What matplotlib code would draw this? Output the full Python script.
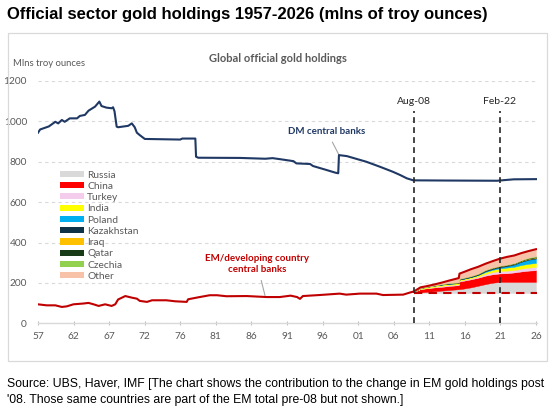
import numpy as np
import matplotlib
matplotlib.use("Agg")
import matplotlib.pyplot as plt
from matplotlib.patches import Patch, Rectangle

# ---------------- data ----------------
tick_labels = ['57', '62', '67', '72', '76', '81', '86', '91', '96', '01', '06', '11', '16', '21', '26']

dm_t = [1957.0, 1957.3, 1958.5, 1959.4, 1959.8, 1960.3, 1960.7, 1961.4, 1962.4, 1962.8, 1963.5,
        1964.0, 1964.9, 1965.5, 1965.8, 1966.5, 1967.2, 1967.4, 1967.6, 1967.9, 1968.1, 1969.5,
        1970.0, 1970.4, 1970.7, 1971.1, 1971.8, 1976.7, 1977.0, 1978.8, 1978.9, 1979.2, 1985.0,
        1988.5, 1989.5, 1990.5, 1992.4, 1992.8, 1994.7, 1995.1, 1997.0, 1998.2, 1998.6, 1998.7,
        1999.8, 2002.5, 2004.4, 2006.2, 2007.2, 2008.1, 2009.0, 2014.0, 2020.6, 2022.9, 2026.1]
dm_v = [944, 960, 975, 998, 990, 1007, 998, 1015, 1015, 1027, 1032,
        1053, 1073, 1098, 1076, 1068, 1065, 1070, 1050, 974, 971, 978,
        990, 971, 944, 932, 913, 910, 915, 915, 825, 820, 819,
        815, 818, 813, 803, 792, 789, 779, 759, 746, 743, 833,
        828, 800, 775, 750, 734, 718, 708, 707, 706, 713, 714]

em_pre_t = [1957.0, 1958.2, 1959.4, 1960.3, 1961.0, 1961.9, 1963.3, 1964.0, 1964.7, 1965.4, 1966.3,
            1967.2, 1967.7, 1968.1, 1969.1, 1970.0, 1970.7, 1971.1, 1972.1, 1972.8, 1974.8, 1976.0,
            1977.6, 1977.8, 1979.4, 1980.8, 1981.8, 1983.1, 1985.9, 1988.7, 1990.5, 1992.0, 1992.9,
            1993.3, 1993.7, 1996.0, 1998.8, 1999.7, 2001.6, 2003.9, 2004.8, 2007.6, 2008.5]
em_pre_v = [94, 89, 89, 81, 84, 94, 98, 101, 94, 86, 94,
            86, 94, 118, 135, 127, 122, 111, 106, 114, 114, 109,
            106, 119, 130, 139, 139, 134, 135, 130, 130, 137, 130,
            121, 135, 140, 147, 142, 147, 147, 140, 142, 152]

# post Aug-08 contributions (mlns oz above the Aug-08 EM level)
em_base = 150
stack_t = [2009.1, 2010, 2011, 2012, 2013, 2014, 2015.3, 2015.4, 2016, 2017, 2018, 2019, 2020,
           2021, 2022, 2023, 2024, 2025, 2026]
russia     = [1, 3, 6, 9, 12, 15, 19, 19, 22, 28, 36, 44, 51, 55, 55, 55, 55, 55, 55]
china      = [5, 17, 18, 19, 19, 20, 20, 38, 39, 40, 40, 42, 42, 42, 43, 47, 52, 56, 58]
turkey     = [0, 0, 1, 3, 5, 5, 4, 4, 4, 5, 6, 9, 11, 12, 13, 12, 14, 15, 16]
india      = [0, 5, 6, 6, 6, 6, 6, 6, 6, 6, 7, 9, 11, 13, 15, 16, 18, 19, 20]
poland     = [0, 0, 0, 0, 0, 0, 0, 0, 0, 0, 1, 4, 4, 6, 7, 11, 16, 20, 22]
kazakhstan = [0, 0.5, 1, 1.5, 2, 2.5, 3, 3, 3.5, 4, 4.5, 5, 5, 5, 5, 4, 4, 4, 4]
iraq       = [0, 0, 0, 0, 1, 1, 1, 1, 1, 1, 1, 1, 1, 1, 1, 1, 1.5, 2, 2]
qatar      = [0, 0, 0, 0, 0, 0.5, 0.5, 0.5, 0.7, 1, 1, 1, 1.5, 1.5, 1.5, 1.7, 1.8, 2, 2]
czechia    = [0, 0, 0, 0, 0, 0, 0, 0, 0, 0, 0, 0, 0, 0, 0.5, 1, 2, 3, 4]
other      = [2, 2.5, 3, 4.5, 7, 12, 20.5, 24.5, 27.8, 33, 33.5, 30, 31.5, 34.5, 38, 37.3, 33.7, 32, 34]
em_post_v  = [158, 178, 185, 193, 202, 212, 224, 246, 254, 268, 280, 295, 308, 320, 329, 336, 348, 358, 367]

layer_names = ['Russia', 'China', 'Turkey', 'India', 'Poland', 'Kazakhstan', 'Iraq', 'Qatar', 'Czechia', 'Other']
layers = [russia, china, turkey, india, poland, kazakhstan, iraq, qatar, czechia, other]
layer_colors = ['#D9D9D9', '#FF0000', '#F4CCEC', '#FFFF00', '#00B0F0', '#0E3247', '#FFC000',
                '#173A17', '#92D050', '#F8C2A8']

events = [2009.1, 2021.0]
event_labels = ['Aug-08', 'Feb-22']

# ---------------- figure ----------------
W, H = 557, 413
fig = plt.figure(figsize=(W / 100, H / 100), dpi=100)
fig.patch.set_facecolor('white')

def fx(px):
    return px / W

def fy(py):
    return 1 - py / H

# outer chart border
fig.patches.append(Rectangle((fx(7.5), fy(361)), fx(547) - fx(7.5), fy(32.5) - fy(361),
                             transform=fig.transFigure, fill=False, edgecolor='#D9D9D9', lw=0.9))

ax = fig.add_axes([fx(38), fy(323.3), fx(537) - fx(38), fy(81) - fy(323.3)])
ax.set_xlim(1957.0, 2026.14)
ax.set_ylim(0, 1200)

grey = '#595959'
tfont = 'Lato'

ax.set_yticks(range(0, 1201, 200))
ax.set_yticklabels([str(v) for v in range(0, 1201, 200)], fontsize=7.3, color=grey, family=tfont)
ax.set_xticks(np.linspace(1957, 2026, len(tick_labels)))
ax.set_xticklabels(tick_labels, fontsize=7.3, color=grey, family=tfont)
ax.tick_params(axis='y', length=0, pad=8)
ax.tick_params(axis='x', length=3, direction='inout', color='#BFBFBF', pad=5)
for s in ['top', 'right', 'left']:
    ax.spines[s].set_visible(False)
ax.spines['bottom'].set_color('#D9D9D9')
ax.spines['bottom'].set_linewidth(1.0)
ax.yaxis.grid(True, linestyle=(0, (3, 3)), color='#D9D9D9', lw=0.8)
ax.set_axisbelow(True)

# stacked contributions
lower = np.full(len(stack_t), float(em_base))
for vals, col in zip(layers, layer_colors):
    upper = lower + np.array(vals, dtype=float)
    ax.fill_between(stack_t, lower, upper, color=col, lw=0.3, edgecolor=col, zorder=2)
    lower = upper

# baseline
ax.plot([events[0], 2026.1], [em_base, em_base], color='#C00000', lw=1.5,
        linestyle=(0, (4, 3)), zorder=3)

# lines
ax.plot(dm_t, dm_v, color='#1F3864', lw=1.5, zorder=4)
ax.plot(em_pre_t + stack_t, em_pre_v + em_post_v, color='#C00000', lw=1.5, zorder=4)

# event lines
for x, lab in zip(events, event_labels):
    ax.plot([x, x], [0, 1050], color='#262626', lw=1.2, linestyle=(0, (3.5, 2.5)), zorder=5)
    ax.text(x, 1100, lab, ha='center', va='center', fontsize=7.5, color='#262626', family=tfont)

# annotations
ax.annotate('DM central banks', xy=(1998.7, 834), xytext=(1997.0, 952),
            ha='center', va='center', fontsize=7, fontweight='bold', color='#1F3864', family=tfont,
            arrowprops=dict(arrowstyle='-', color='#A6A6A6', lw=0.8, shrinkA=3, shrinkB=0))
ax.annotate('EM/developing country\ncentral banks', xy=(1988.45, 138), xytext=(1987.35, 294),
            ha='center', va='center', fontsize=7, fontweight='bold', color='#C00000', family=tfont,
            linespacing=1.2,
            arrowprops=dict(arrowstyle='-', color='#A6A6A6', lw=0.8, shrinkA=3, shrinkB=0))

# texts
ax.text(fx(13), fy(64), 'Mlns troy ounces', transform=fig.transFigure, fontsize=6.8,
        color=grey, family=tfont, va='center', ha='left')
ax.text(fx(278), fy(59), 'Global official gold holdings', transform=fig.transFigure,
        fontsize=8, fontweight='bold', color=grey, family=tfont, va='center', ha='center')

fig.text(fx(7), fy(14), 'Official sector gold holdings 1957-2026 (mlns of troy ounces)',
         fontsize=12.0, fontweight='bold', family='Liberation Sans', color='black',
         va='center', ha='left')
fig.text(fx(7), fy(383.5), 'Source: UBS, Haver, IMF [The chart shows the contribution to the change in EM gold holdings post',
         fontsize=8.8, family='Liberation Sans', color='black', va='center', ha='left')
fig.text(fx(7), fy(400.5), "'08. Those same countries are part of the EM total pre-08 but not shown.]",
         fontsize=8.8, family='Liberation Sans', color='black', va='center', ha='left')

# legend
handles = [Patch(facecolor=c, edgecolor='none') for c in layer_colors]
leg = fig.legend(handles, layer_names, loc='upper left', bbox_to_anchor=(fx(60), fy(170.5)),
                 frameon=False, handlelength=2.3, handleheight=0.55,
                 handletextpad=0.35, labelspacing=0.22, borderpad=0, borderaxespad=0,
                 prop={'family': tfont, 'size': 7.4})
for t in leg.get_texts():
    t.set_color(grey)

fig.savefig('out.png', dpi=100, facecolor='white')
